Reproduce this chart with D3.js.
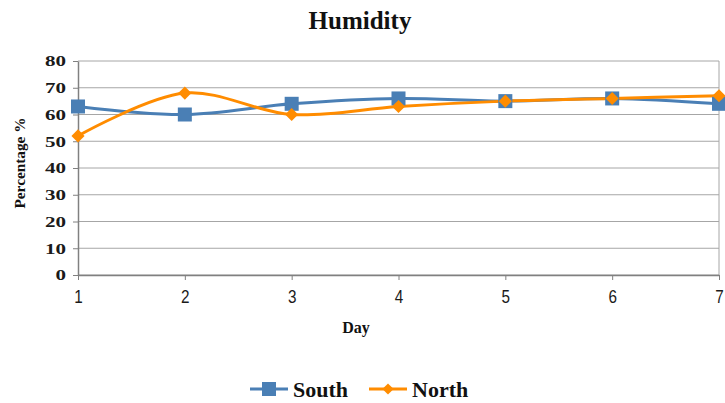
<!DOCTYPE html>
<html lang="en">
<head>
  <meta charset="UTF-8">
  <title>Humidity</title>
  <script src="https://d3js.org/d3.v7.min.js"></script>
  <style>
    html, body { margin: 0; padding: 0; background: #fff; }
    svg { display: block; }
  </style>
</head>
<body>
  <div id="chart"></div>
  <script>
    // chart data
    var days = [1, 2, 3, 4, 5, 6, 7];
    var south = [63, 60, 64, 66, 65, 66, 64];
    var north = [52, 68, 60, 63, 65, 66, 67];
    var yTicks = [0, 10, 20, 30, 40, 50, 60, 70, 80];

    var width = 725, height = 403;
    var margin = {top: 61, right: 6, bottom: 128, left: 78};

    var svg = d3.select("#chart").append("svg")
      .attr("width", width)
      .attr("height", height);

    var x = d3.scaleLinear().domain([1, 7]).range([margin.left, width - margin.right]);
    var y = d3.scaleLinear().domain([0, 80]).range([height - margin.bottom, margin.top]);

    var serif = "'Liberation Serif', 'Times New Roman', serif";
    var sans = "'Liberation Sans', Arial, sans-serif";

    // gridlines
    svg.append("g")
      .selectAll("line")
      .data(yTicks)
      .join("line")
      .attr("x1", x(1)).attr("x2", x(7))
      .attr("y1", d => y(d)).attr("y2", d => y(d))
      .attr("stroke", "#a6a6a6")
      .attr("stroke-width", 1);

    // right border
    svg.append("line")
      .attr("x1", x(7)).attr("x2", x(7))
      .attr("y1", y(80)).attr("y2", y(0))
      .attr("stroke", "#a6a6a6");

    // y axis
    var yAxis = svg.append("g")
      .attr("transform", `translate(${margin.left},0)`)
      .call(d3.axisLeft(y).tickValues(yTicks).tickSize(5).tickPadding(7).tickSizeOuter(0));
    yAxis.select(".domain").attr("stroke", "#808080").attr("stroke-width", 1.5);
    yAxis.selectAll(".tick line").attr("stroke", "#808080");
    yAxis.selectAll("text")
      .attr("font-family", serif).attr("font-weight", "bold")
      .attr("font-size", 15).attr("fill", "#1a1a1a")
      .attr("textLength", d => String(d).length * 10.5)
      .attr("lengthAdjust", "spacingAndGlyphs");

    // x axis
    var xAxis = svg.append("g")
      .attr("transform", `translate(0,${y(0)})`)
      .call(d3.axisBottom(x).tickValues(days).tickFormat(d3.format("d")).tickSize(5).tickPadding(10).tickSizeOuter(0));
    xAxis.select(".domain").attr("stroke", "#808080").attr("stroke-width", 1.5);
    xAxis.selectAll(".tick line").attr("stroke", "#808080");
    xAxis.selectAll("text")
      .attr("font-family", sans).attr("font-size", 18).attr("fill", "#1a1a1a")
      .attr("textLength", 8.5)
      .attr("lengthAdjust", "spacingAndGlyphs");

    // titles
    svg.append("text")
      .attr("x", 360).attr("y", 29)
      .attr("text-anchor", "middle")
      .attr("font-family", serif).attr("font-weight", "bold").attr("font-size", 25)
      .attr("fill", "#111")
      .text("Humidity");

    svg.append("text")
      .attr("x", 356).attr("y", 333)
      .attr("text-anchor", "middle")
      .attr("font-family", serif).attr("font-weight", "bold").attr("font-size", 16)
      .attr("fill", "#111")
      .text("Day");

    svg.append("text")
      .attr("transform", "translate(25,163) rotate(-90)")
      .attr("text-anchor", "middle")
      .attr("font-family", serif).attr("font-weight", "bold").attr("font-size", 15)
      .attr("fill", "#111")
      .attr("textLength", 91)
      .attr("lengthAdjust", "spacingAndGlyphs")
      .text("Percentage %");

    // series
    var line = d3.line()
      .x((d, i) => x(days[i]))
      .y(d => y(d))
      .curve(d3.curveCatmullRom.alpha(0.5));

    var blue = "#4a7fb5", orange = "#ff8c00";

    svg.append("path").datum(south)
      .attr("fill", "none").attr("stroke", blue).attr("stroke-width", 3)
      .attr("d", line);

    svg.append("path").datum(north)
      .attr("fill", "none").attr("stroke", orange).attr("stroke-width", 3)
      .attr("d", line);

    svg.append("g").selectAll("rect")
      .data(south)
      .join("rect")
      .attr("x", (d, i) => x(days[i]) - 7)
      .attr("y", d => y(d) - 7)
      .attr("width", 14).attr("height", 14)
      .attr("fill", blue);

    var diamond = d3.symbol().type(d3.symbolDiamond2).size(110);
    svg.append("g").selectAll("path")
      .data(north)
      .join("path")
      .attr("transform", (d, i) => `translate(${x(days[i])},${y(d)})`)
      .attr("d", diamond)
      .attr("fill", orange);

    // legend
    var legend = svg.append("g").attr("transform", "translate(0,389)");
    var items = [
      {name: "South", color: blue, x: 250, marker: "square"},
      {name: "North", color: orange, x: 369, marker: "diamond"}
    ];
    items.forEach(function(it) {
      legend.append("line")
        .attr("x1", it.x).attr("x2", it.x + 38)
        .attr("y1", 0).attr("y2", 0)
        .attr("stroke", it.color).attr("stroke-width", 3);
      if (it.marker === "square") {
        legend.append("rect")
          .attr("x", it.x + 12).attr("y", -7)
          .attr("width", 14).attr("height", 14)
          .attr("fill", it.color);
      } else {
        legend.append("path")
          .attr("transform", `translate(${it.x + 19},0)`)
          .attr("d", d3.symbol().type(d3.symbolDiamond2).size(80))
          .attr("fill", it.color);
      }
      legend.append("text")
        .attr("x", it.x + 43).attr("y", 8)
        .attr("font-family", serif).attr("font-weight", "bold").attr("font-size", 22)
        .attr("fill", "#111")
        .text(it.name);
    });
  </script>
</body>
</html>
